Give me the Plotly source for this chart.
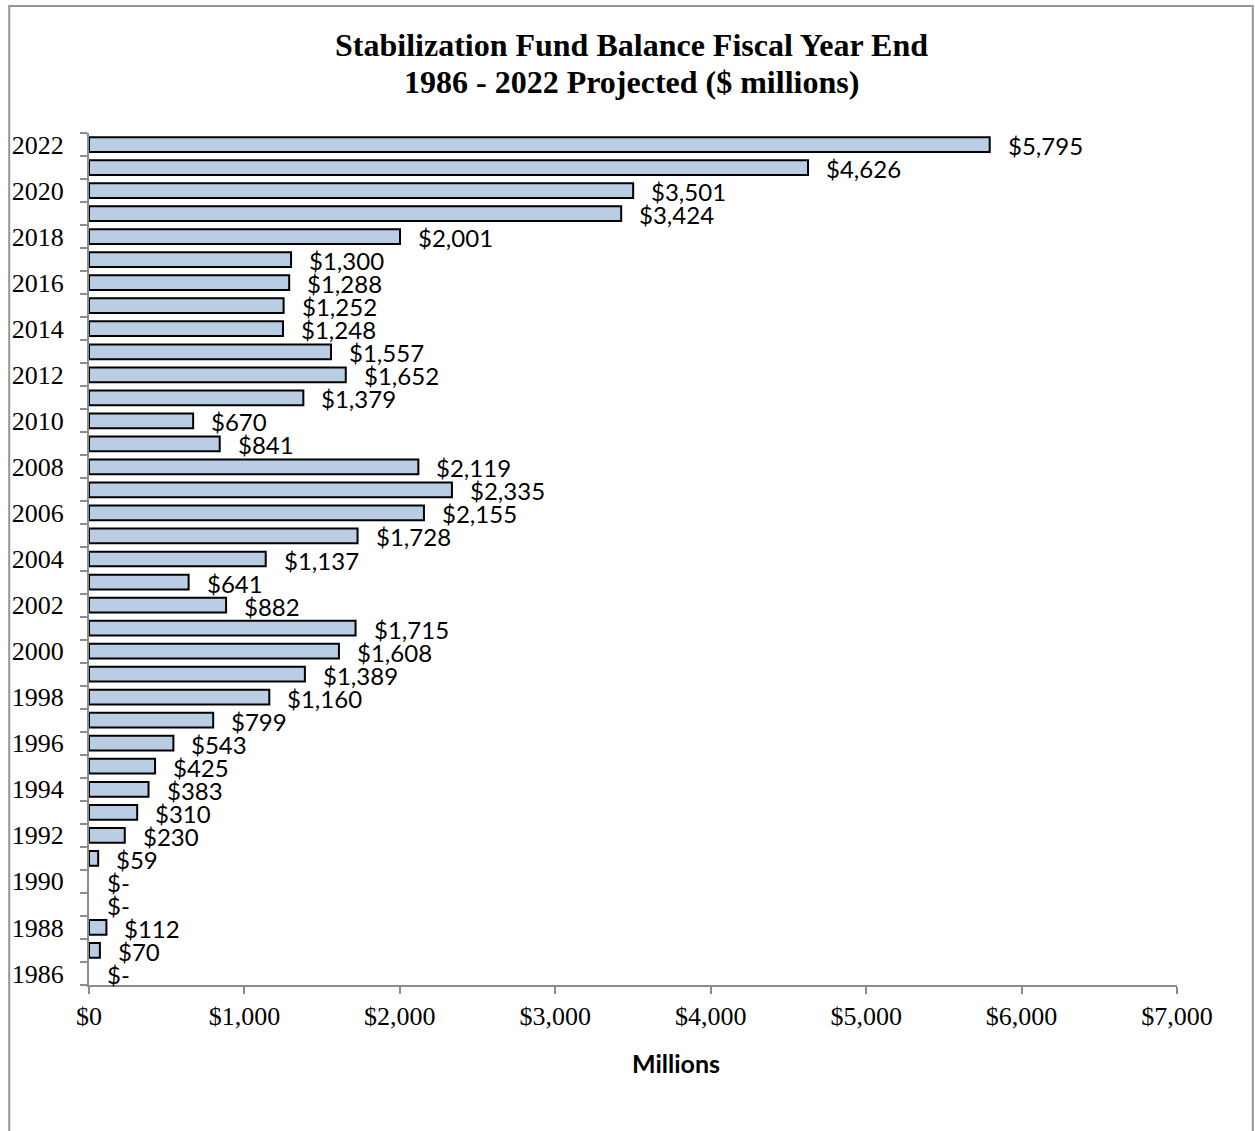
import plotly.graph_objects as go

years = list(range(1986, 2023))
balances = [0, 70, 112, 0, 0, 59, 230, 310, 383, 425, 543, 799, 1160, 1389, 1608, 1715,
            882, 641, 1137, 1728, 2155, 2335, 2119, 841, 670, 1379, 1652, 1557, 1248, 1252,
            1288, 1300, 2001, 3424, 3501, 4626, 5795]
year_tick_labels = [str(y) for y in range(1986, 2023, 2)]
x_ticks = [0, 1000, 2000, 3000, 4000, 5000, 6000, 7000]
x_tick_labels = ["$0", "$1,000", "$2,000", "$3,000", "$4,000", "$5,000", "$6,000", "$7,000"]
title_lines = ["Stabilization Fund Balance Fiscal Year End", "1986 - 2022 Projected ($ millions)"]

def fmt(v):
    return "$-" if v == 0 else "${:,}".format(v)

SERIF = "'Liberation Serif', 'Times New Roman', serif"
SANS = "Lato, 'Open Sans', sans-serif"

fig = go.Figure()
fig.add_trace(go.Bar(
    x=balances, y=years, orientation="h", width=0.64,
    marker=dict(color="#B9CDE5",
                line=dict(color="black", width=[0 if v == 0 else 2 for v in balances])),
    hoverinfo="x+y",
))

L, R, T, B = 86, 78, 133, 146
W, H = 1255, 1131
pw, ph = W - L - R, H - T - B

annotations = []
for y, v in zip(years, balances):
    annotations.append(dict(
        x=v, y=y, xref="x", yref="y", text=fmt(v), showarrow=False,
        xanchor="left", yanchor="middle", xshift=16, yshift=-1,
        font=dict(family=SANS, size=24, color="black"),
    ))
# title lines
for line, ypx in zip(title_lines, [45, 82]):
    annotations.append(dict(
        x=(630 - L) / pw, y=(H - B - ypx) / ph, xref="paper", yref="paper",
        text="<b>" + line + "</b>", showarrow=False, xanchor="center", yanchor="middle",
        font=dict(family=SERIF, size=32, color="black"),
    ))
# x-axis title
annotations.append(dict(
    x=(675 - L) / pw, y=(H - B - 1063) / ph, xref="paper", yref="paper",
    text="<b>Millions</b>", showarrow=False, xanchor="center", yanchor="middle",
    font=dict(family=SANS, size=25, color="black"),
))

fig.update_layout(
    width=W, height=H,
    margin=dict(l=L, r=R, t=T, b=B),
    paper_bgcolor="white", plot_bgcolor="white",
    showlegend=False,
    annotations=annotations,
    shapes=[dict(type="rect", xref="paper", yref="paper",
                 x0=(6 - L) / pw, x1=(1253 - L) / pw,
                 y0=(H - B - 1145) / ph, y1=(H - B - 6) / ph,
                 line=dict(color="#959595", width=2), fillcolor="rgba(0,0,0,0)", layer="below")],
)

fig.update_xaxes(
    range=[0, 7000], tickvals=x_ticks, ticktext=x_tick_labels,
    showgrid=False, zeroline=False, showline=True, linecolor="#8c8c8c", linewidth=2,
    ticks="outside", ticklen=7, tickwidth=2, tickcolor="#8c8c8c",
    tickfont=dict(family=SERIF, size=26, color="black"),
)
fig.update_yaxes(
    range=[1985.5, 2022.5], tickvals=[int(t) for t in year_tick_labels], ticktext=year_tick_labels,
    showgrid=False, zeroline=False, showline=True, linecolor="#8c8c8c", linewidth=2,
    ticks="outside", ticklen=0, ticklabelstandoff=18,
    minor=dict(tick0=1985.5, dtick=1, ticks="outside", ticklen=7, tickwidth=2, tickcolor="#8c8c8c", showgrid=False),
    tickfont=dict(family=SERIF, size=26, color="black"),
)

fig.write_html("out.html")
